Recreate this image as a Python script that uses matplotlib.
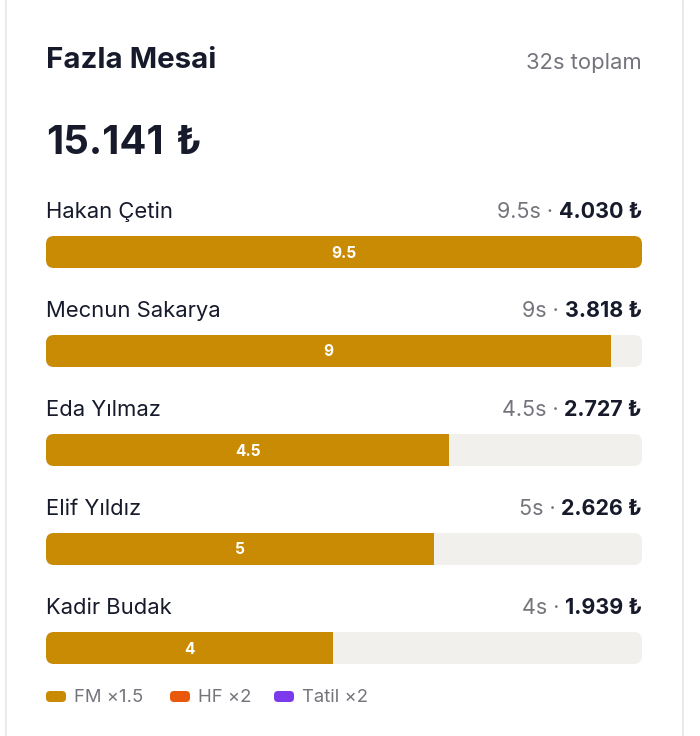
import matplotlib
matplotlib.use("Agg")
import matplotlib.pyplot as plt
from matplotlib.patches import FancyBboxPatch, Rectangle

plt.rcParams["font.family"] = ["Inter", "DejaVu Sans"]

# data
names = ["Hakan Çetin", "Mecnun Sakarya", "Eda Yılmaz", "Elif Yıldız", "Kadir Budak"]
hours = [9.5, 9, 4.5, 5, 4]
hour_labels = ["9.5", "9", "4.5", "5", "4"]
amounts = [4030, 3818, 2727, 2626, 1939]
amount_labels = ["4.030 ₺", "3.818 ₺", "2.727 ₺", "2.626 ₺", "1.939 ₺"]
total_label = "15.141 ₺"
total_hours = "32s toplam"
legend_labels = ["FM ×1.5", "HF ×2", "Tatil ×2"]
legend_colors = ["#c98a04", "#ea580c", "#7c3aed"]

dark = "#161a2b"
gray = "#74747c"
gold = "#c98a04"
track = "#f1f0ed"

W, H = 700, 736
fig = plt.figure(figsize=(W / 100, H / 100), dpi=100)
ax = fig.add_axes([0, 0, 1, 1])
ax.set_xlim(0, W)
ax.set_ylim(H, 0)
ax.axis("off")

def px(v):
    return v * 72 / 100

# card
card = FancyBboxPatch((6, -20), 677, 800, boxstyle="round,pad=0,rounding_size=24",
                      facecolor="white", edgecolor="#e6e6e8", linewidth=1.2)
ax.add_patch(card)

ax.text(46, 61, "Fazla Mesai", fontsize=px(29.5), fontweight="bold", color=dark, va="center")
ax.text(642, 63, total_hours, fontsize=px(22), color=gray, va="center", ha="right")
# number and lira sign, a bit more gap than a normal space
num, cur = total_label.split(" ")
tn = ax.text(46, 144, num, fontsize=px(40), fontweight="bold", color=dark, va="center")
ax.annotate(cur, xycoords=tn, xy=(1, 0.5), xytext=(9, 0), textcoords="offset points",
            fontsize=px(40), fontweight="bold", color=dark, va="center", ha="left")

x0, x1 = 46, 642
tw = x1 - x0
bh = 32
top = 236
step = 99
maxv = max(amounts)

for i, name in enumerate(names):
    by = top + i * step
    ax.text(x0, by - 24, name, fontsize=px(22), color=dark, va="center")
    t = ax.text(x1, by - 24, amount_labels[i], fontsize=px(21.5), fontweight="bold",
                color=dark, va="center", ha="right")
    ax.annotate(f"{hour_labels[i]}s · ", xycoords=t, xy=(0, 0.5),
                ha="right", va="center", fontsize=px(21.5), color=gray)
    bg = FancyBboxPatch((x0, by), tw, bh, boxstyle="round,pad=0,rounding_size=8",
                        facecolor=track, edgecolor="none")
    ax.add_patch(bg)
    w = amounts[i] / maxv * tw
    fill = Rectangle((x0, by), w, bh, facecolor=gold, edgecolor="none")
    ax.add_patch(fill)
    fill.set_clip_path(bg)
    ax.text(x0 + w / 2, by + bh / 2 + 1, hour_labels[i], fontsize=px(15.5), fontweight="bold",
            color="white", ha="center", va="center")

# legend
lx = [46, 170, 274]
for i, lab in enumerate(legend_labels):
    sw = FancyBboxPatch((lx[i], 691), 20, 11, boxstyle="round,pad=0,rounding_size=4",
                        facecolor=legend_colors[i], edgecolor="none")
    ax.add_patch(sw)
    ax.text(lx[i] + 28, 697, lab, fontsize=px(18.5), color=gray, va="center")

fig.savefig("out.png", dpi=100, facecolor="white")
